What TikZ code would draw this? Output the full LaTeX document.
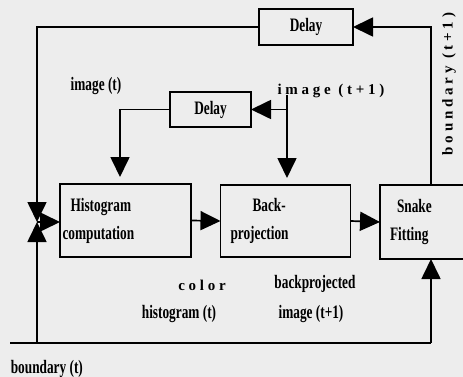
\documentclass[tikz,border=0pt]{standalone}
\usepackage{fontspec}
\usetikzlibrary{arrows.meta}
% condensed bold serif for ordinary labels, letter-spaced bold for the sparse ones
\newfontfamily\labfont{Liberation Serif}[UprightFont=* Bold, FakeStretch=0.7]
\newfontfamily\spfont{Liberation Serif}[UprightFont=* Bold, LetterSpace=25]
\begin{document}
\begin{tikzpicture}[x=1pt,y=-1pt,
  line width=1.7pt,
  box/.style={draw, line width=1.7pt, outer sep=0pt, inner sep=0pt},
  boxtxt/.style={font=\labfont\fontsize{19}{28}\selectfont},
  lab/.style={font=\labfont\fontsize{19}{28}\selectfont, inner sep=0pt, anchor=base},
  slab/.style={font=\spfont\fontsize{15}{16}\selectfont, inner sep=0pt, anchor=base},
  arr/.style={-{Triangle[length=20pt,width=19pt]}},
]
\useasboundingbox (0,0) rectangle (463,377);
\fill[black!7] (0,0) rectangle (463,377);

% processing blocks
\node[box, boxtxt, minimum width=94pt, minimum height=36pt] (delayT) at (306,27) {Delay};
\node[box, boxtxt, minimum width=81pt, minimum height=35pt] (delayS) at (210.5,109.5) {Delay};
\node[box, boxtxt, minimum width=131pt, minimum height=73pt, text width=126pt, align=left, inner xsep=2.5pt]
  (hist) at (125.5,220.5) {\hspace*{8pt}Histogram\\computation};
\node[box, boxtxt, minimum width=121pt, minimum height=72pt, text width=110pt, align=left, inner xsep=10pt]
  (back) at (285.5,221) {\hspace*{22pt}Back-\\projection};
\node[box, boxtxt, minimum width=76pt, minimum height=74pt, text width=66pt, align=left, inner xsep=10pt]
  (snake) at (423,222) {\hspace*{7pt}Snake\\Fitting};

% routing points
\coordinate (jn) at (37,222);
\coordinate (rt) at (431,27);
\coordinate (bl) at (10,343);
\coordinate (br) at (431,343);
\coordinate (it1) at (287,95);
\coordinate (lx) at (120,0);

% feedback of the boundary through the upper delay
\draw[arr] (snake.north -| rt) -- (delayT.east -| rt) -- (delayT.east);
\draw[arr] (delayT.west) -| (jn);
% boundary (t) entering from below
\draw (bl) -- (br);
\draw[arr] (br) -- (snake.south -| br);
\draw[arr] (jn |- bl) -- (jn);
\draw[arr] (jn) -- (jn -| hist.west);
% main chain
\draw[arr] (hist.east) -- (back.west);
\draw[arr] (back.east) -- (snake.west);
% image (t+1) and its delayed copy
\draw[arr, shorten >=7pt] (it1) -- (back.north -| it1);
\draw[arr] (delayS.east -| it1) -- (delayS.east);
\draw[arr, shorten >=7pt] (delayS.west) -| (hist.north -| lx);

% signal labels
\node[lab] (limt) at (96,91) {image (t)};
\node[slab] (limt1) at (331,95) {image (t+1)};
\node[slab] (lcol) at (202,290) {color};
\node[lab] (lhist) at (179,318) {histogram (t)};
\node[lab] (lbp) at (315,288) {backprojected};
\node[lab] (lbpi) at (311,318) {image (t+1)};
\node[lab, anchor=base west] (lbt) at (10,373) {boundary (t)};
\node[slab, rotate=90, anchor=center] (lbt1) at (449,84) {boundary (t+1)};
\end{tikzpicture}
\end{document}
